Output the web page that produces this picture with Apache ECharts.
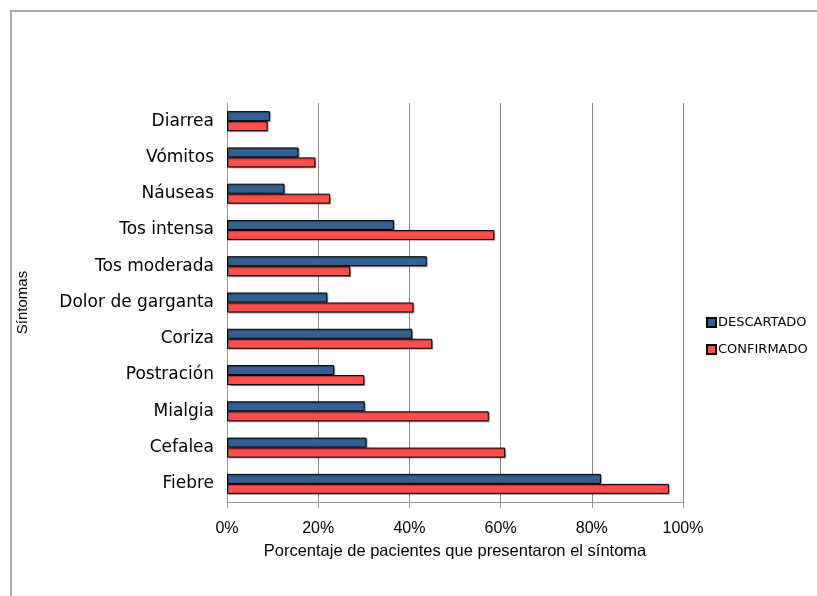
<!DOCTYPE html>
<html>
<head>
<meta charset="utf-8">
<script src="https://cdn.jsdelivr.net/npm/echarts@6/dist/echarts.min.js"></script>
<style>html,body{margin:0;padding:0;background:#fff;}#c{width:817px;height:596px;}</style>
</head>
<body>
<div id="c"></div>
<script>
const categories = ['Fiebre','Cefalea','Mialgia','Postración','Coriza','Dolor de garganta','Tos moderada','Tos intensa','Náuseas','Vómitos','Diarrea'];
const descartado = [82.0, 30.6, 30.2, 23.5, 40.6, 22.0, 43.8, 36.6, 12.6, 15.7, 9.4];
const confirmado = [96.9, 61.0, 57.4, 30.1, 45.0, 40.9, 27.0, 58.6, 22.6, 19.4, 8.9];
const xTicks = [0, 20, 40, 60, 80, 100];

const chart = echarts.init(document.getElementById('c'));
const lib = 'Liberation Sans, Arial, sans-serif';
const dejavu = 'DejaVu Sans, sans-serif';
const barStyle = (c) => ({color: c, borderColor: '#000', borderWidth: 1, shadowColor: 'rgba(0,0,0,0.35)', shadowOffsetX: 1, shadowOffsetY: 1, shadowBlur: 1});
chart.setOption({
  animation: false,
  textStyle: {fontFamily: lib},
  graphic: [{type: 'rect', shape: {x: 11, y: 11, width: 900, height: 700}, style: {fill: 'none', stroke: '#8a8a8a', lineWidth: 1.5}, silent: true}],
  grid: {left: 227, top: 103, right: 134, bottom: 94, containLabel: false},
  legend: {
    orient: 'vertical', left: 701, top: 311, itemWidth: 9, itemHeight: 9, itemGap: 14, icon: 'rect',
    textStyle: {fontSize: 13, color: '#000', fontFamily: dejavu, padding: [0,0,0,-3]},
    data: ['DESCARTADO', 'CONFIRMADO']
  },
  xAxis: {
    type: 'value', min: 0, max: 100, interval: 20,
    name: 'Porcentaje de pacientes que presentaron el síntoma', nameLocation: 'middle', nameGap: 41,
    nameTextStyle: {fontSize: 16.5, color: '#000', fontFamily: lib},
    axisLine: {show: true, lineStyle: {color: '#999'}},
    axisTick: {show: true, length: 6, lineStyle: {color: '#999'}},
    axisLabel: {fontSize: 16, color: '#000', margin: 19, fontFamily: lib, formatter: (v) => xTicks.includes(v) ? v + '%' : ''},
    splitLine: {show: true, lineStyle: {color: '#888'}}
  },
  yAxis: {
    type: 'category', data: categories,
    name: 'Síntomas', nameLocation: 'middle', nameGap: 197,
    nameTextStyle: {fontSize: 15, color: '#000', fontFamily: lib},
    axisLine: {show: true, lineStyle: {color: '#999'}},
    axisTick: {show: false},
    axisLabel: {fontSize: 17, color: '#000', margin: 13, fontFamily: dejavu}
  },
  series: [
    {name: 'DESCARTADO', type: 'bar', data: descartado, barWidth: 10, barGap: '0%', itemStyle: barStyle('#355f90')},
    {name: 'CONFIRMADO', type: 'bar', data: confirmado, barWidth: 10, barGap: '0%', itemStyle: barStyle('#ff4f4f')}
  ]
});
</script>
</body>
</html>
